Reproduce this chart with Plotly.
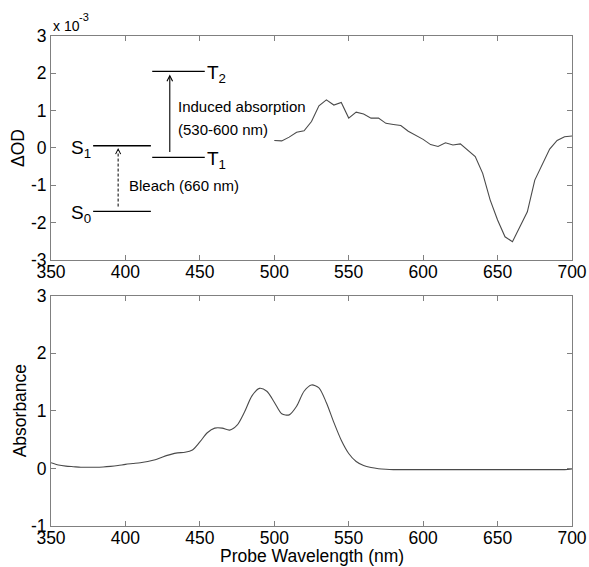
import plotly.graph_objects as go

# ---- Data: transient absorption (ΔOD, units of 1e-3) ----
wl_dod = [500, 505, 510, 515, 520, 525, 530, 535, 540, 545, 550, 555, 560, 565, 570,
          575, 580, 585, 590, 595, 600, 605, 610, 615, 620, 625, 630, 635, 640, 645,
          650, 655, 660, 665, 670, 675, 680, 685, 690, 695, 700]
dod_milli = [0.20, 0.19, 0.29, 0.42, 0.46, 0.71, 1.13, 1.29, 1.15, 1.22, 0.80, 0.96, 0.91, 0.80, 0.80,
             0.66, 0.63, 0.60, 0.45, 0.34, 0.23, 0.09, 0.04, 0.14, 0.08, 0.11, -0.05, -0.23, -0.68, -1.39,
             -1.93, -2.38, -2.51, -2.11, -1.71, -0.86, -0.46, -0.03, 0.20, 0.30, 0.32]

# ---- Data: ground-state absorbance ----
wl_abs = [350, 355, 360, 365, 370, 375, 380, 385, 390, 395, 400, 405, 410, 415, 420,
          425, 430, 435, 440, 445, 450, 455, 460, 465, 470, 475, 480, 485, 490, 495,
          500, 505, 510, 515, 520, 525, 530, 535, 540, 545, 550, 555, 560, 565, 570,
          575, 580, 590, 600, 620, 640, 660, 680, 695, 700]
absorbance = [0.10, 0.06, 0.04, 0.03, 0.02, 0.02, 0.02, 0.025, 0.035, 0.05, 0.07, 0.085, 0.10, 0.12, 0.15,
              0.20, 0.24, 0.27, 0.28, 0.32, 0.46, 0.62, 0.70, 0.70, 0.665, 0.75, 0.98, 1.26, 1.39, 1.34,
              1.15, 0.95, 0.93, 1.08, 1.34, 1.45, 1.40, 1.14, 0.80, 0.49, 0.26, 0.12, 0.05, 0.015, -0.005,
              -0.015, -0.02, -0.02, -0.02, -0.02, -0.02, -0.02, -0.02, -0.02, -0.01]

x_ticks = [350, 400, 450, 500, 550, 600, 650, 700]
y_ticks_top = [-3, -2, -1, 0, 1, 2, 3]
y_ticks_bot = [-1, 0, 1, 2, 3]

FONT = "Liberation Sans, Arial, sans-serif"
AXC = "#808080"
LINEC = "#4a4a4a"
TICKSIZE = 17.5

fig = go.Figure()
fig.add_trace(go.Scatter(x=wl_dod, y=dod_milli, mode="lines",
                         line=dict(color=LINEC, width=1.1), xaxis="x", yaxis="y",
                         showlegend=False, hoverinfo="skip"))
fig.add_trace(go.Scatter(x=wl_abs, y=absorbance, mode="lines",
                         line=dict(color=LINEC, width=1.1, shape="spline", smoothing=0.8),
                         xaxis="x2", yaxis="y2", showlegend=False, hoverinfo="skip"))

axis_common = dict(showline=True, linecolor=AXC, linewidth=1, mirror="ticks",
                   ticks="inside", ticklen=5, tickcolor=AXC, tickwidth=1,
                   showgrid=False, zeroline=False, automargin=False,
                   tickfont=dict(family=FONT, size=TICKSIZE, color="black"))

def labels(vals):
    return [str(v) for v in vals]  # plain hyphen minus like the original

fig.update_layout(
    width=589, height=567,
    margin=dict(l=51, r=17, t=36, b=41),
    paper_bgcolor="white", plot_bgcolor="white",
    xaxis=dict(domain=[0, 1], anchor="y", range=[350, 700], tickvals=x_ticks,
               ticktext=labels(x_ticks), ticklabelstandoff=-4, **axis_common),
    yaxis=dict(domain=[0.543, 1.0], anchor="x", range=[-3, 3], tickvals=y_ticks_top,
               ticktext=labels(y_ticks_top), **axis_common),
    xaxis2=dict(domain=[0, 1], anchor="y2", range=[350, 700], tickvals=x_ticks,
                ticktext=labels(x_ticks), ticklabelstandoff=-4, **axis_common),
    yaxis2=dict(domain=[0, 0.470], anchor="x2", range=[-1, 3], tickvals=y_ticks_bot,
                ticktext=labels(y_ticks_bot), **axis_common),
)

# axis titles
title_font = dict(family=FONT, size=TICKSIZE, color="black")
fig.add_annotation(x=-0.0633, y=0.7714, xref="paper", yref="paper", text="ΔOD", textangle=-90,
                   showarrow=False, xanchor="center", yanchor="middle", font=title_font)
fig.add_annotation(x=-0.0605, y=0.235, xref="paper", yref="paper", text="Absorbance", textangle=-90,
                   showarrow=False, xanchor="center", yanchor="middle", font=title_font)
fig.add_annotation(x=0.5, y=-0.0612, xref="paper", yref="paper", text="Probe Wavelength (nm)",
                   showarrow=False, xanchor="center", yanchor="middle", font=title_font)

# ---- Energy-level diagram in top panel ----
level_style = dict(color="black", width=1.3)
levels = [  # (x0, x1, y)
    (378.3, 417.1, -1.70),  # S0
    (378.3, 417.1, 0.06),   # S1
    (418.0, 453.3, -0.25),  # T1
    (418.0, 453.3, 2.05),   # T2
]
for x0, x1, yv in levels:
    fig.add_shape(type="line", xref="x", yref="y", x0=x0, x1=x1, y0=yv, y1=yv, line=level_style)

# dashed bleach arrow
fig.add_shape(type="line", xref="x", yref="y", x0=395.1, x1=395.1, y0=-1.57, y1=-0.1,
              line=dict(color="black", width=1, dash="3px,2px"))
fig.add_annotation(x=395.1, y=0.0, ax=395.1, ay=-0.12, xref="x", yref="y", axref="x", ayref="y",
                   text="", showarrow=True, arrowhead=5, arrowsize=1, arrowwidth=1, arrowcolor="black")
# solid induced absorption arrow
fig.add_annotation(x=429.8, y=1.97, ax=429.8, ay=-0.15, xref="x", yref="y", axref="x", ayref="y",
                   text="", showarrow=True, arrowhead=5, arrowsize=1, arrowwidth=1.1, arrowcolor="black")

lab_font = dict(family=FONT, size=19, color="black")
txt_font = dict(family=FONT, size=15, color="black")
for txt, xv, yv, anchor, fnt in [
    ("S<sub>1</sub>", 378.5, -0.02, "right", lab_font),
    ("S<sub>0</sub>", 378.5, -1.78, "right", lab_font),
    ("T<sub>2</sub>", 453.3, 1.98, "left", lab_font),
    ("T<sub>1</sub>", 453.3, -0.33, "left", lab_font),
    ("Induced absorption", 433.8, 1.12, "left", txt_font),
    ("(530-600 nm)", 433.8, 0.49, "left", txt_font),
    ("Bleach (660 nm)", 401.3, -1.01, "left", txt_font),
]:
    fig.add_annotation(x=xv, y=yv, xref="x", yref="y", text=txt, showarrow=False,
                       xanchor=anchor, yanchor="middle", font=fnt)

# axis exponent label "x 10^-3"
fig.add_annotation(x=0.0, y=1.0204, xref="paper", yref="paper", xanchor="left", yanchor="middle",
                   text="x 10", showarrow=False, font=dict(family=FONT, size=14, color="black"))
fig.add_annotation(x=0.0499, y=1.0388, xref="paper", yref="paper", xanchor="left", yanchor="middle",
                   text="-3", showarrow=False, font=dict(family=FONT, size=11, color="black"))

fig.write_html("out.html", config={"displayModeBar": False},
               post_script="document.body.style.margin='0';")
